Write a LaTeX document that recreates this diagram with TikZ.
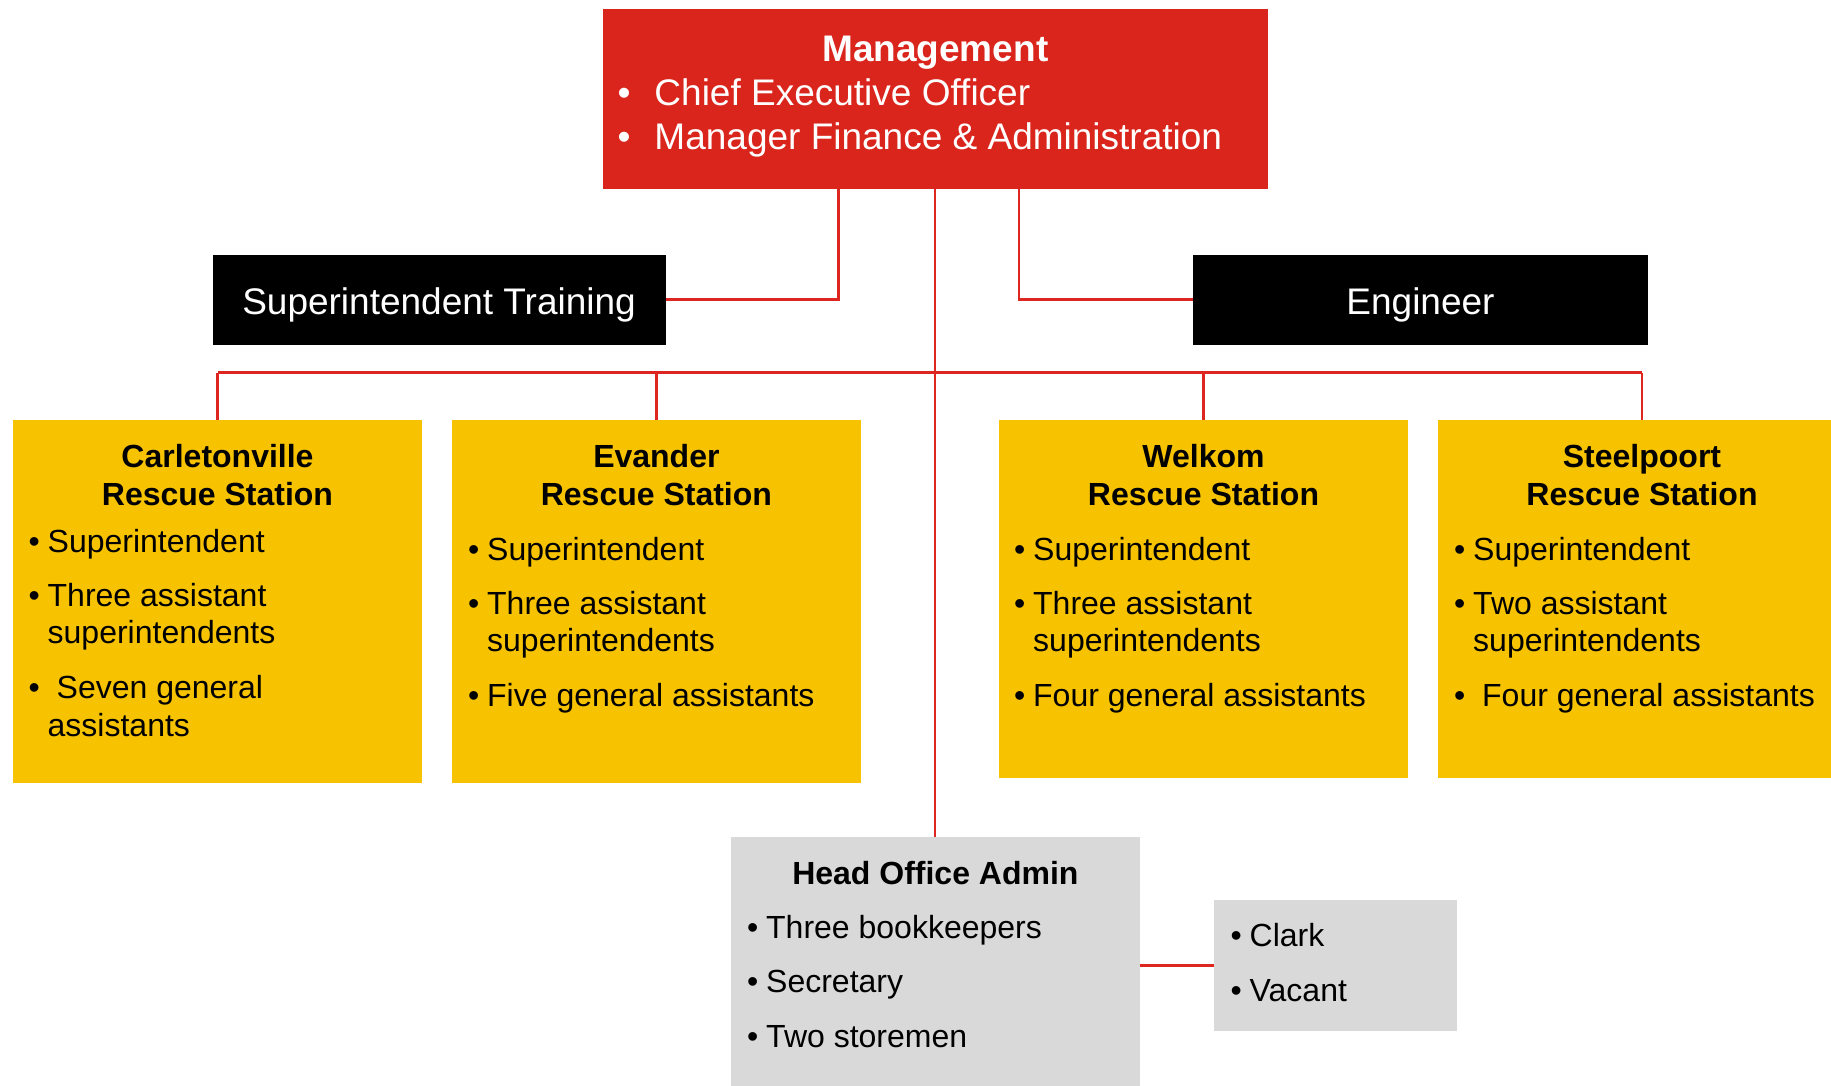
\documentclass[tikz,border=0pt]{standalone}
\usepackage{fontspec}
\setmainfont{Liberation Sans}
\definecolor{mred}{RGB}{218,37,29}
\definecolor{lred}{RGB}{222,38,32}
\definecolor{gold}{RGB}{247,195,0}
\definecolor{lgray}{RGB}{217,217,217}
\newcommand\bul{\makebox[19pt][l]{•}}
\newcommand\bulw{\makebox[28pt][l]{•}}
\newcommand\bulm{\makebox[37pt][l]{•}}
\begin{document}
\begin{tikzpicture}[x=1pt,y=-1pt,
  box/.style={rectangle,inner sep=0pt,outer sep=0pt,draw=none},
  conn/.style={draw=lred,line width=2.3pt},
  big/.style={inner sep=0pt,anchor=base,font=\fontsize{37pt}{44pt}\selectfont,text=white},
  bigitem/.style={inner sep=0pt,anchor=base west,font=\fontsize{37pt}{44pt}\selectfont,text=white},
  ttl/.style={inner sep=0pt,anchor=base,font=\fontsize{32pt}{38pt}\selectfont\bfseries},
  item/.style={inner sep=0pt,anchor=base west,font=\fontsize{32pt}{38pt}\selectfont}]
\useasboundingbox (0,0) rectangle (1831,1086);
\fill[white] (0,0) rectangle (1831,1086);
\clip (0,0) rectangle (1831,1086);

% boxes
\node[box,fill=mred,minimum width=665.5pt,minimum height=179.7pt] (mgmt) at (935.3,99.15) {};
\node[box,fill=black,minimum width=453.1pt,minimum height=89.9pt] (train) at (439.05,299.55) {};
\node[box,fill=black,minimum width=454.2pt,minimum height=89.9pt] (eng) at (1420.5,299.55) {};
\node[box,fill=gold,minimum width=409pt,minimum height=363.3pt] (carl) at (217.5,601.65) {};
\node[box,fill=gold,minimum width=409.2pt,minimum height=363.3pt] (evan) at (656.4,601.65) {};
\node[box,fill=gold,minimum width=409pt,minimum height=358pt] (welk) at (1203.5,599) {};
\node[box,fill=gold,minimum width=408pt,minimum height=358pt] (stl) at (1642,599) {};
\node[box,fill=lgray,minimum width=408.7pt,minimum height=252.7pt] (head) at (935.3,963.65) {};
\node[box,fill=lgray,minimum width=243.2pt,minimum height=130.7pt] (clark) at (1335.4,965.35) {};

% connectors
\coordinate (bus) at (0,372.5);
\coordinate (tx) at (838.5,0);
\coordinate (ex) at (1019.2,0);
\draw[conn] (mgmt.south) -- (head.north);
\draw[conn] (carl.north |- bus) -- (stl.north |- bus);
\foreach \n in {carl,evan,welk,stl} \draw[conn] (\n.north) -- (\n.north |- bus);
\draw[conn] (mgmt.south -| tx) |- (train.east);
\draw[conn] (mgmt.south -| ex) |- (eng.west);
\draw[conn,line width=3.3pt] (clark.west -| head.east) -- (clark.west);

% management text
\node[big,font=\fontsize{37pt}{44pt}\selectfont\bfseries] (mgmt-t) at (935.3,61.5) {Management};
\node[bigitem] (mgmt-1) at (617.3,105.5) {\bulm Chief Executive Officer};
\node[bigitem] (mgmt-2) at (617.3,149.8) {\bulm Manager Finance \& Administration};
\node[big] (train-t) at (439.05,314) {Superintendent Training};
\node[big] (eng-t) at (1420.5,314) {Engineer};

% Carletonville
\node[ttl] (carl-t1) at (217.5,467.5) {Carletonville};
\node[ttl] (carl-t2) at (217.5,505.8) {Rescue Station};
\node[item] (carl-1) at (28.5,552.2) {\bul Superintendent};
\node[item] (carl-2) at (28.5,606.3) {\bul Three assistant};
\node[item] (carl-2b) at (47.5,643.7) {superintendents};
\node[item] (carl-3) at (28.5,698.5) {\bulw Seven general};
\node[item] (carl-3b) at (47.5,736.8) {assistants};

% Evander
\node[ttl] (evan-t1) at (656.4,467.5) {Evander};
\node[ttl] (evan-t2) at (656.4,505.8) {Rescue Station};
\node[item] (evan-1) at (468,560) {\bul Superintendent};
\node[item] (evan-2) at (468,614) {\bul Three assistant};
\node[item] (evan-2b) at (487,651.7) {superintendents};
\node[item] (evan-3) at (468,706.3) {\bul Five general assistants};

% Welkom
\node[ttl] (welk-t1) at (1203.5,467.5) {Welkom};
\node[ttl] (welk-t2) at (1203.5,505.8) {Rescue Station};
\node[item] (welk-1) at (1014,560) {\bul Superintendent};
\node[item] (welk-2) at (1014,614) {\bul Three assistant};
\node[item] (welk-2b) at (1033,651.7) {superintendents};
\node[item] (welk-3) at (1014,706.3) {\bul Four general assistants};

% Steelpoort
\node[ttl] (stl-t1) at (1642,467.5) {Steelpoort};
\node[ttl] (stl-t2) at (1642,505.8) {Rescue Station};
\node[item] (stl-1) at (1454,560) {\bul Superintendent};
\node[item] (stl-2) at (1454,614) {\bul Two assistant};
\node[item] (stl-2b) at (1473,651.7) {superintendents};
\node[item] (stl-3) at (1454,706.3) {\bulw Four general assistants};

% Head office
\node[ttl] (head-t) at (935.4,884.3) {Head Office Admin};
\node[item] (head-1) at (747,938.7) {\bul Three bookkeepers};
\node[item] (head-2) at (747,992.5) {\bul Secretary};
\node[item] (head-3) at (747,1047) {\bul Two storemen};

% Clark
\node[item] (clark-1) at (1230.5,946.5) {\bul Clark};
\node[item] (clark-2) at (1230.5,1001.5) {\bul Vacant};
\end{tikzpicture}
\end{document}
